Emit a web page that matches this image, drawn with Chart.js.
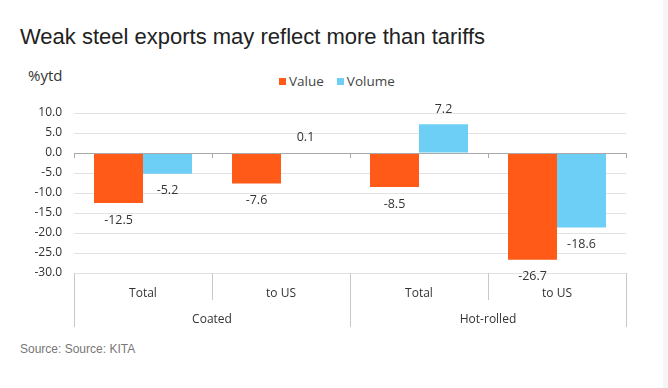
<!DOCTYPE html>
<html>
<head>
<meta charset="utf-8">
<script src="https://cdn.jsdelivr.net/npm/chart.js@4.4.0/dist/chart.umd.min.js"></script>
<style>
  html, body { margin: 0; padding: 0; background: #fff; }
  body { width: 668px; height: 388px; position: relative; overflow: hidden; font-family: "Liberation Sans", Arial, sans-serif; }
  #edge { position: absolute; left: 663px; top: 0; width: 5px; height: 388px; background: #f5f5f5; }
  #title { position: absolute; left: 20px; top: 24px; font-size: 22px; color: #222; white-space: nowrap; }
  #unit { position: absolute; left: 28px; top: 65px; font-size: 15px; color: #333; font-family: "Open Sans", sans-serif; }
  #legend { position: absolute; left: 279px; top: 72px; font-size: 13.5px; color: #444; font-family: "Open Sans", sans-serif; white-space: nowrap; }
  #legend span.sw { display: inline-block; width: 7px; height: 7px; margin-right: 3px; vertical-align: 1px; }
  #legend span.item { margin-right: 13px; }
  #source { position: absolute; left: 20px; top: 342px; font-size: 12px; color: #777; }
  #wrap { position: absolute; left: 0; top: 100px; width: 668px; height: 232px; }
</style>
</head>
<body>
<div id="edge"></div>
<div id="title">Weak steel exports may reflect more than tariffs</div>
<div id="unit">%ytd</div>
<div id="legend"></div>
<div id="wrap"><canvas id="c"></canvas></div>
<div id="source">Source: Source: KITA</div>
<script>
const categories = ["Total", "to US", "Total", "to US"];
const groups = ["Coated", "Hot-rolled"];
const seriesNames = ["Value", "Volume"];
const valueData = [-12.5, -7.6, -8.5, -26.7];
const volumeData = [-5.2, 0.1, 7.2, -18.6];
const yTicks = [10, 5, 0, -5, -10, -15, -20, -25, -30];
const colors = ["#FF5A17", "#6DCFF6"];

// HTML legend
const lg = document.getElementById('legend');
seriesNames.forEach((n, i) => {
  const it = document.createElement('span');
  it.className = 'item';
  const sw = document.createElement('span');
  sw.className = 'sw';
  sw.style.background = colors[i];
  it.appendChild(sw);
  it.appendChild(document.createTextNode(n));
  lg.appendChild(it);
});

const tickFont = { family: "'Open Sans', sans-serif", size: 12 };

const labelPlugin = {
  id: 'labels',
  afterDatasetsDraw(chart) {
    const ctx = chart.ctx;
    ctx.save();
    ctx.font = "12.5px 'Open Sans', sans-serif";
    ctx.fillStyle = '#333';
    ctx.textAlign = 'center';
    ctx.textBaseline = 'middle';
    chart.data.datasets.forEach((ds, di) => {
      const meta = chart.getDatasetMeta(di);
      meta.data.forEach((bar, i) => {
        const v = ds.data[i];
        const y = v >= 0 ? bar.y - 15 : bar.y + 17;
        ctx.fillText(v.toFixed(1), bar.x, y);
      });
    });
    ctx.restore();
  }
};

const zeroTicks = {
  id: 'zeroTicks',
  afterDatasetsDraw(chart) {
    const xs = chart.scales.x, ys = chart.scales.y;
    const y0 = ys.getPixelForValue(0);
    const n = categories.length;
    const w = (xs.right - xs.left) / n;
    const ctx = chart.ctx;
    ctx.save();
    ctx.strokeStyle = '#aaa';
    ctx.lineWidth = 1;
    ctx.beginPath();
    ctx.moveTo(xs.left, Math.round(y0) + 0.5);
    ctx.lineTo(xs.right, Math.round(y0) + 0.5);
    for (let i = 0; i <= n; i++) {
      const x = Math.round(xs.left + i * w) + 0.5;
      ctx.moveTo(x, y0);
      ctx.lineTo(x, y0 + 5);
    }
    ctx.stroke();
    ctx.restore();
  }
};

function fixX(h) {
  return function (s) { s.height = h; s.paddingLeft = 0; s.paddingRight = 0; s.paddingTop = 0; s.paddingBottom = 0; };
}

new Chart(document.getElementById('c'), {
  type: 'bar',
  data: {
    labels: categories,
    datasets: [
      { label: seriesNames[0], data: valueData, backgroundColor: colors[0], categoryPercentage: 0.71, barPercentage: 1.0 },
      { label: seriesNames[1], data: volumeData, backgroundColor: colors[1], categoryPercentage: 0.71, barPercentage: 1.0 }
    ]
  },
  options: {
    responsive: true,
    maintainAspectRatio: false,
    animation: false,
    layout: { padding: { top: 13, right: 42, left: 0, bottom: 0 } },
    plugins: { legend: { display: false }, tooltip: { enabled: false } },
    scales: {
      y: {
        min: -30, max: 10,
        afterFit(s) { s.width = 74; s.paddingTop = 0; s.paddingBottom = 0; s.paddingLeft = 0; s.paddingRight = 0; },
        afterBuildTicks(s) { s.ticks = yTicks.map(v => ({ value: v })); },
        ticks: { font: tickFont, color: '#333', padding: 12, callback: v => Number(v).toFixed(1) },
        grid: { color: '#e3e3e3', drawTicks: false },
        border: { display: false }
      },
      x: {
        position: 'bottom',
        offset: true,
        afterFit: fixX(27),
        grid: { offset: true, drawOnChartArea: false, tickLength: 27, color: '#c8c8c8' },
        border: { display: false },
        ticks: { font: tickFont, color: '#333', padding: -14, maxRotation: 0 }
      },
      x2: {
        type: 'category',
        labels: groups,
        position: 'bottom',
        offset: true,
        afterFit: fixX(32),
        grid: { offset: true, drawOnChartArea: false, tickLength: 27, color: '#c8c8c8' },
        border: { display: false },
        ticks: { font: tickFont, color: '#333', padding: -15, maxRotation: 0 }
      }
    }
  },
  plugins: [labelPlugin, zeroTicks]
});
</script>
</body>
</html>
